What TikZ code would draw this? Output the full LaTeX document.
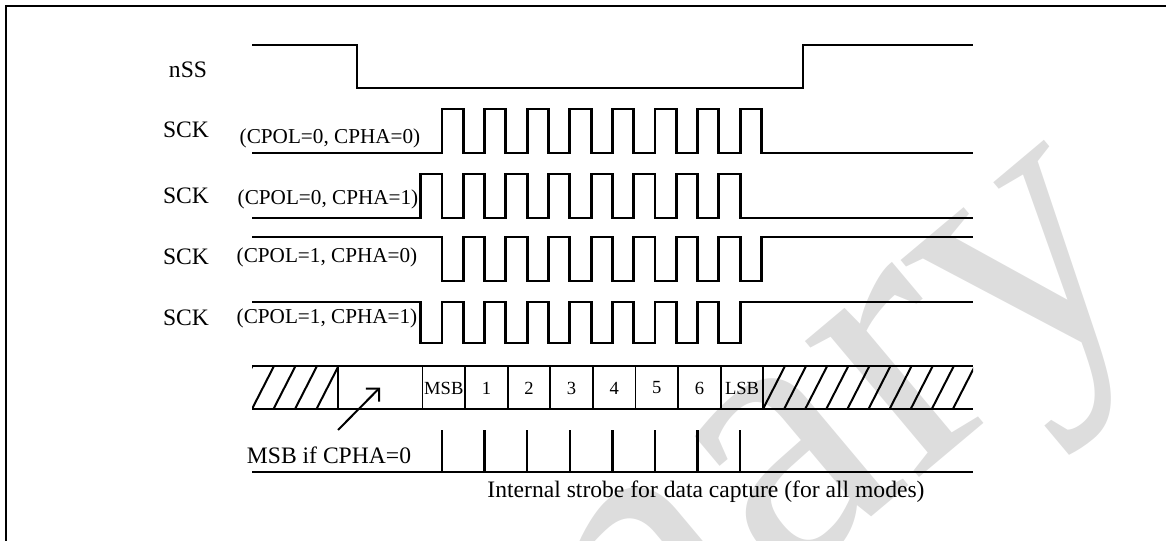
\documentclass[tikz,border=0pt]{standalone}
\usepackage{fontspec}
\setmainfont{Liberation Serif}
\usetikzlibrary{arrows.meta}
\definecolor{wmgray}{RGB}{221,221,221}
\begin{document}
\begin{tikzpicture}[
    x=0.75pt, y=-0.75pt,
    sig/.style={line width=2.2pt, line join=miter},
    bus/.style={line width=1.8pt},
    divider/.style={line width=1.3pt},
    hatch/.style={line width=1.5pt},
    strobe/.style={line width=1.8pt},
    sigtag/.style={font=\fontsize{17.7}{20}\selectfont},
    modetag/.style={font=\fontsize{15.9}{18}\selectfont},
    celltag/.style={font=\fontsize{13.9}{16}\selectfont, inner sep=0pt},
    note/.style={font=\fontsize{17.7}{20}\selectfont},
    pointer/.style={line width=1.5pt, -{Straight Barb[length=7pt, width=14pt]}},
]
    \useasboundingbox (0,0) rectangle (1166,541);
    \clip (0,0) rectangle (1166,541);
    \def\tper{42.6}
    \def\thalf{21.3}

    % Watermark
    \node[text=wmgray, rotate=40, anchor=base east, inner sep=0pt,
          font=\fontsize{290}{320}\selectfont] (wmark) at (1160,275) {Preliminary};

    % Frame
    \draw[line width=1.5pt] (6,560) |- (1180,6);

    % Signal names
    \node[sigtag] (lbl-nss) at (188,70) {nSS};
    \node[sigtag] (lbl-sck1) at (186,130) {SCK};
    \node[sigtag] (lbl-sck2) at (186,196) {SCK};
    \node[sigtag] (lbl-sck3) at (186,257) {SCK};
    \node[sigtag] (lbl-sck4) at (186,318) {SCK};

    % Clock modes
    \node[modetag] (mode1) at (330,138) {(CPOL=0, CPHA=0)};
    \node[modetag] (mode2) at (328,199) {(CPOL=0, CPHA=1)};
    \node[modetag] (mode3) at (327,257) {(CPOL=1, CPHA=0)};
    \node[modetag] (mode4) at (327,318) {(CPOL=1, CPHA=1)};

    % nSS
    \draw[sig] (252,45) -- (357,45) -- (357,88) -- (803,88) -- (803,45) -- (973,45);

    % SCK, CPOL=0, CPHA=0
    \draw[sig] (252,153) \foreach \k in {0,...,7} {
        -- ({442+\tper*\k},153) -- ({442+\tper*\k},109)
        -- ({442+\thalf+\tper*\k},109) -- ({442+\thalf+\tper*\k},153)} -- (973,153);
    % SCK, CPOL=0, CPHA=1
    \draw[sig] (252,218) \foreach \k in {0,...,7} {
        -- ({442-\thalf+\tper*\k},218) -- ({442-\thalf+\tper*\k},174)
        -- ({442+\tper*\k},174) -- ({442+\tper*\k},218)} -- (973,218);
    % SCK, CPOL=1, CPHA=0
    \draw[sig] (252,237) \foreach \k in {0,...,7} {
        -- ({442+\tper*\k},237) -- ({442+\tper*\k},281)
        -- ({442+\thalf+\tper*\k},281) -- ({442+\thalf+\tper*\k},237)} -- (973,237);
    % SCK, CPOL=1, CPHA=1
    \draw[sig] (252,302) \foreach \k in {0,...,7} {
        -- ({442-\thalf+\tper*\k},302) -- ({442-\thalf+\tper*\k},343)
        -- ({442+\tper*\k},343) -- ({442+\tper*\k},302)} -- (973,302);

    % Data bus
    \begin{scope}
        \clip (252,366) rectangle (338,409);
        \foreach \k in {-1,...,4}
            \draw[hatch] ({252+21.5*\k},409) -- ({274+21.5*\k},366);
    \end{scope}
    \begin{scope}
        \clip (763,366) rectangle (973,409);
        \foreach \k in {0,...,9}
            \draw[hatch] ({763+21.1*\k},409) -- ({785+21.1*\k},366);
    \end{scope}
    \draw[bus] (252,366) -- (973,366);
    \draw[bus] (252,409) -- (973,409);
    \draw[divider] (338,366) -- (338,409);
    \foreach \k in {0,...,8}
        \draw[divider] ({422.5+\tper*\k},366) -- ({422.5+\tper*\k},409);
    \node[celltag] (cell-x) at (380,387.5) {};
    \foreach \t [count=\k from 0] in {MSB,1,2,3,4,5,6,LSB}
        \node[celltag] (cell-\k) at ({443.8+\tper*\k},388) {\t};

    % MSB note
    \node[note] (note-msb) at (329,455) {MSB if CPHA=0};
    \coordinate (arrtail) at (338,430);
    \draw[pointer] (arrtail) -- (cell-x.center);

    % Strobes
    \foreach \k in {0,...,7}
        \draw[strobe] ({442+\tper*\k},430) -- ({442+\tper*\k},472);
    \draw[strobe] (252,472) -- (973,472);
    \node[note] (cap-strobe) at (706,492) {Internal strobe for data capture (for all modes)};
\end{tikzpicture}
\end{document}
